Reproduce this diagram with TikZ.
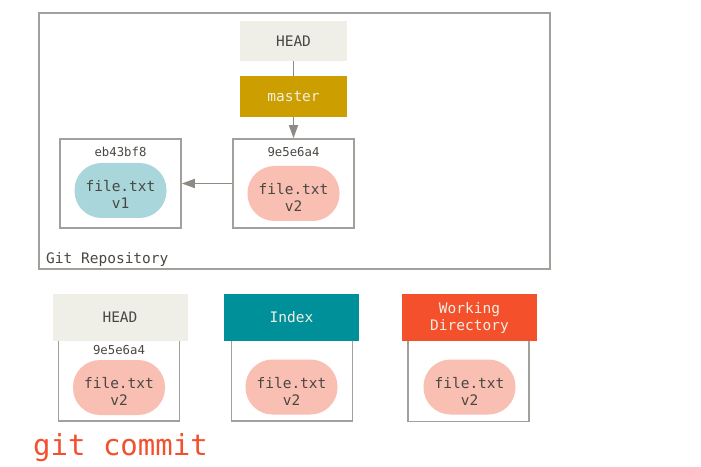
\documentclass[tikz,border=0pt]{standalone}
\usepackage{fontspec}
\setmainfont{DejaVu Sans Mono}
\usetikzlibrary{arrows.meta}
\definecolor{headgray}{HTML}{F0EFE7}
\definecolor{gold}{HTML}{CC9E00}
\definecolor{teal}{HTML}{00909A}
\definecolor{wdred}{HTML}{F4502B}
\definecolor{blobblue}{HTML}{A9D6DA}
\definecolor{blobpink}{HTML}{F8BFB2}
\definecolor{bordergray}{HTML}{A3A09B}
\definecolor{arrowgray}{HTML}{8E8A84}
\definecolor{txtgray}{HTML}{4A4743}
\definecolor{cmdred}{HTML}{F2502F}
\newcommand\blobstrut{\rule{0pt}{19bp}}
\tikzset{
  base/.style={font=\fontsize{14.5bp}{17bp}\selectfont, text=txtgray, inner sep=0pt, align=center},
  hdr/.style={base, minimum width=135bp, minimum height=47bp},
  headbox/.style={hdr, fill=headgray},
  ref/.style={base, fill=headgray, minimum width=107bp, minimum height=40bp},
  branch/.style={base, fill=gold, text=headgray, minimum width=107bp, minimum height=41bp},
  commitbox/.style={draw=bordergray, line width=1.6bp, fill=white, minimum width=121bp, minimum height=89bp, inner sep=0pt},
  areabox/.style={draw=bordergray, line width=1.6bp, fill=white, minimum width=121bp, minimum height=121bp, inner sep=0pt},
  blob/.style={base, rounded corners=27bp, minimum width=92bp, minimum height=55bp},
  hash/.style={base, font=\fontsize{12.3bp}{14bp}\selectfont, anchor=base},
  link/.style={draw=arrowgray, line width=1.7bp},
  arr/.style={link, -{Triangle[length=13bp,width=9bp]}}
}
\begin{document}
\begin{tikzpicture}[x=1bp,y=-1bp]
\useasboundingbox (0,0) rectangle (701,467);
% repository
\node[draw=bordergray, line width=1.6bp, minimum width=511bp, minimum height=256bp, inner sep=0pt] (repo) at (294.5,141) {};
\node[base, anchor=base west] (repolabel) at (46,264) {Git Repository};
\node[ref] (head) at (293.5,41) {HEAD};
\node[branch] (master) at (293.5,96.5) {master};
\node[commitbox] (c1) at (120.5,183.5) {};
\node[hash] (c1h) at (120.5,157) {eb43bf8};
\node[blob, fill=blobblue] (b1) at (120.5,190.5) {\blobstrut file.txt\\v1};
\node[commitbox] (c2) at (293.5,183.5) {};
\node[hash] (c2h) at (293.5,157) {9e5e6a4};
\node[blob, fill=blobpink] (b2) at (293.5,193.5) {\blobstrut file.txt\\v2};
\draw[link] (head) -- (master);
\draw[arr] (master) -- (c2);
\draw[arr] (c2) -- (c1);
% three trees
\node[areabox] (hb) at (119,360.5) {};
\node[headbox] (hh) at (120,317.5) {HEAD};
\node[hash] (hbh) at (119,354) {9e5e6a4};
\node[blob, fill=blobpink] (hbb) at (119,387.5) {\blobstrut file.txt\\v2};
\node[areabox] (ib) at (292,360.5) {};
\node[hdr, fill=teal, text=headgray] (ih) at (291.5,317.5) {Index};
\node[blob, fill=blobpink] (ibb) at (291.5,387) {\blobstrut file.txt\\v2};
\node[areabox] (wb) at (468.5,361) {};
\node[hdr, fill=wdred, text=headgray] (wh) at (469.5,317.5) {Working\\Directory};
\node[blob, fill=blobpink] (wbb) at (469.5,387) {\blobstrut file.txt\\v2};
\node[base, anchor=base west, text=cmdred, font=\fontsize{29bp}{32bp}\selectfont] (cmd) at (33,455) {git commit};
\end{tikzpicture}
\end{document}
